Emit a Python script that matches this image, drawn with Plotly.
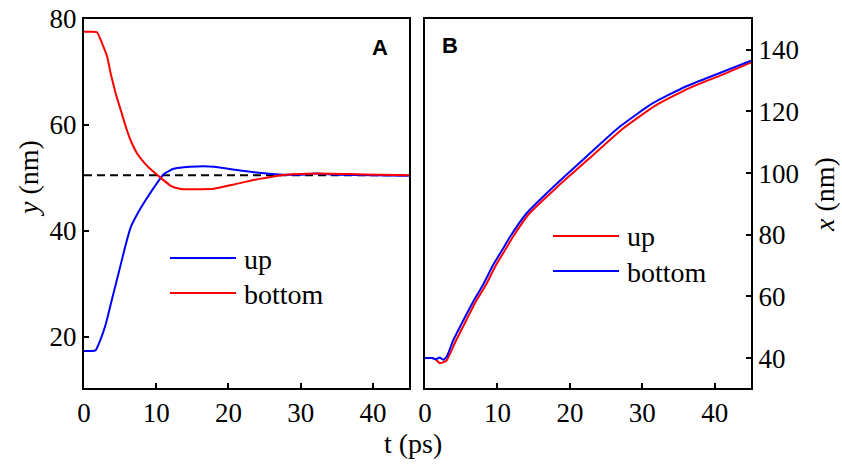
import plotly.graph_objects as go

W, H = 842, 465

# ---------------- data ----------------
# Panel A : y (nm) vs t (ps)
tA_up = [0, 1, 1.6, 2.3, 3.0, 3.7, 4.4, 5.1, 5.8, 6.45, 7.4, 8.5, 9.7, 11.1, 12.4, 13.8, 15.7, 18, 21.6, 25.3, 27.5, 30, 32, 35, 40, 45]
yA_up = [17.3, 17.3, 17.4, 19.5, 22.3, 26.1, 29.9, 33.7, 37.5, 40.6, 43.2, 45.7, 48.2, 50.75, 51.7, 52.0, 52.15, 52.1, 51.4, 50.8, 50.6, 50.6, 50.8, 50.6, 50.5, 50.4]

tA_bottom = [0, 1, 1.8, 2.5, 3.2, 3.7, 4.4, 5.1, 5.8, 6.45, 7.4, 8.5, 9.7, 10.8, 12.0, 13.4, 15.2, 18, 20.6, 24.3, 28, 32.2, 36.8, 41, 45]
yA_bottom = [77.6, 77.6, 77.5, 75.4, 72.9, 69.7, 65.9, 62.75, 59.6, 57.1, 54.5, 52.6, 51.05, 49.8, 48.5, 47.9, 47.85, 47.95, 48.7, 49.8, 50.6, 50.8, 50.7, 50.6, 50.5]

y_equilibrium = 50.5

# Panel B : x (nm) vs t (ps)
tB_up = [0, 1, 1.5, 2, 2.5, 3, 4.3, 5.7, 7.0, 8.4, 9.8, 11.2, 12.1, 14.4, 18.1, 22.7, 27.3, 31.8, 36.4, 41, 45]
xB_up = [40, 40, 39.5, 38.4, 38.6, 39.3, 45.8, 52.3, 58.3, 63.7, 70.2, 75.6, 79.2, 86.9, 95.2, 104.8, 114.4, 121.9, 127.5, 131.9, 135.9]

tB_bottom = [0, 1, 1.5, 2, 2.5, 3, 3.9, 5.3, 6.65, 8.0, 9.4, 10.8, 11.7, 14, 17.7, 22.3, 26.9, 31.4, 36, 40.6, 45]
xB_bottom = [40, 40, 39.6, 40.2, 39.5, 40.5, 45.8, 52.3, 58.3, 63.7, 70.2, 75.6, 79.2, 86.9, 95.5, 105.4, 115.1, 122.6, 128.1, 132.4, 136.5]

t_ticks = [0, 10, 20, 30, 40]
yA_ticks = [20, 40, 60, 80]
xB_ticks = [40, 60, 80, 100, 120, 140]

RED = "#ff0000"
BLUE = "#0000ff"
SERIF = "Liberation Serif"

# ---------------- figure ----------------
fig = go.Figure()

fig.add_trace(go.Scatter(x=[0, 45], y=[y_equilibrium, y_equilibrium], mode="lines",
                         line=dict(color="black", width=2, dash="8px,5px"),
                         xaxis="x", yaxis="y", showlegend=False))
fig.add_trace(go.Scatter(x=tA_up, y=yA_up, mode="lines", name="up",
                         line=dict(color=BLUE, width=2, shape="spline", smoothing=0.5),
                         xaxis="x", yaxis="y", showlegend=False))
fig.add_trace(go.Scatter(x=tA_bottom, y=yA_bottom, mode="lines", name="bottom",
                         line=dict(color=RED, width=2, shape="spline", smoothing=0.5),
                         xaxis="x", yaxis="y", showlegend=False))
fig.add_trace(go.Scatter(x=tB_up, y=xB_up, mode="lines", name="up",
                         line=dict(color=RED, width=2, shape="spline", smoothing=0.5),
                         xaxis="x2", yaxis="y2", showlegend=False))
fig.add_trace(go.Scatter(x=tB_bottom, y=xB_bottom, mode="lines", name="bottom",
                         line=dict(color=BLUE, width=2, shape="spline", smoothing=0.5),
                         xaxis="x2", yaxis="y2", showlegend=False))

def px_x(p):
    return p / W

def px_y(p):
    return 1 - p / H

axis_common = dict(showline=True, linecolor="black", linewidth=2, mirror=True,
                   ticks="inside", ticklen=5, tickwidth=2, tickcolor="black",
                   showgrid=False, zeroline=False, automargin=False,
                   tickfont=dict(family=SERIF, size=27, color="black"))

fig.update_layout(
    width=W, height=H, autosize=False,
    margin=dict(l=0, r=0, t=0, b=0),
    paper_bgcolor="white", plot_bgcolor="white",
    xaxis=dict(domain=[px_x(84), px_x(409)], range=[0, 45], tickvals=t_ticks,
               anchor="y", **axis_common),
    yaxis=dict(domain=[px_y(388), px_y(19)], range=[10.3, 80], tickvals=yA_ticks,
               anchor="x", **axis_common),
    xaxis2=dict(domain=[px_x(425), px_x(751)], range=[0, 45], tickvals=t_ticks,
                anchor="y2", **axis_common),
    yaxis2=dict(domain=[px_y(388), px_y(19)], range=[30.3, 150], tickvals=xB_ticks,
                anchor="x2", side="right", **axis_common),
)

# legends drawn as short line samples + labels
def legend_entry(x0, x1, y, color, label):
    fig.add_shape(type="line", xref="paper", yref="paper",
                  x0=px_x(x0), x1=px_x(x1), y0=px_y(y), y1=px_y(y),
                  line=dict(color=color, width=2))
    fig.add_annotation(xref="paper", yref="paper", x=px_x(x1 + 6), y=px_y(y + 1),
                       text=label, showarrow=False, xanchor="left", yanchor="middle",
                       font=dict(family=SERIF, size=28, color="black"))

legend_entry(170, 236, 258, BLUE, "up")
legend_entry(170, 236, 293, RED, "bottom")
legend_entry(553, 619, 236, RED, "up")
legend_entry(553, 619, 271, BLUE, "bottom")

# panel letters
fig.add_annotation(xref="paper", yref="paper", x=px_x(380), y=px_y(47), text="<b>A</b>",
                   showarrow=False, xanchor="center", yanchor="middle",
                   font=dict(family="Liberation Sans", size=22, color="black"))
fig.add_annotation(xref="paper", yref="paper", x=px_x(450), y=px_y(45), text="<b>B</b>",
                   showarrow=False, xanchor="center", yanchor="middle",
                   font=dict(family="Liberation Sans", size=22, color="black"))

# axis titles
fig.add_annotation(xref="paper", yref="paper", x=px_x(28), y=px_y(179), text="<i>y</i> (nm)",
                   textangle=-90, showarrow=False, xanchor="center", yanchor="middle",
                   font=dict(family=SERIF, size=28, color="black"))
fig.add_annotation(xref="paper", yref="paper", x=px_x(824), y=px_y(195), text="<i>x</i> (nm)",
                   textangle=-90, showarrow=False, xanchor="center", yanchor="middle",
                   font=dict(family=SERIF, size=28, color="black"))
fig.add_annotation(xref="paper", yref="paper", x=px_x(413), y=px_y(443), text="t (ps)",
                   showarrow=False, xanchor="center", yanchor="middle",
                   font=dict(family=SERIF, size=28, color="black"))

fig.write_html("out.html")
